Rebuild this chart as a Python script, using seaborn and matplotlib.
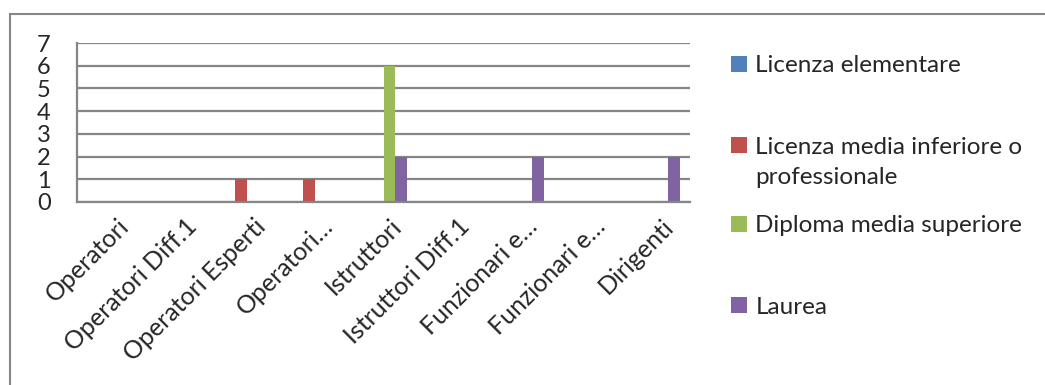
import matplotlib
matplotlib.use("Agg")
import matplotlib.pyplot as plt
import matplotlib.patches as mpatches
import matplotlib.transforms as mtransforms
import seaborn as sns
import pandas as pd

# categories and series
categories = ["Operatori", "Operatori Diff.1", "Operatori Esperti", "Operatori…",
              "Istruttori", "Istruttori Diff.1", "Funzionari e…", "Funzionari e…",
              "Dirigenti"]
series = ["Licenza elementare", "Licenza media inferiore o professionale",
          "Diploma media superiore", "Laurea"]
licenza_elementare = [0, 0, 0, 0, 0, 0, 0, 0, 0]
licenza_media = [0, 0, 1, 1, 0, 0, 0, 0, 0]
diploma = [0, 0, 0, 0, 6, 0, 0, 0, 0]
laurea = [0, 0, 0, 0, 2, 0, 2, 0, 2]
colors = ["#4F81BD", "#C0504D", "#9BBB59", "#8064A2"]

# unique x keys (two categories share the same truncated label)
keys = [f"c{i}" for i in range(len(categories))]
rows = []
for s, vals in zip(series, [licenza_elementare, licenza_media, diploma, laurea]):
    for k, v in zip(keys, vals):
        rows.append({"cat": k, "serie": s, "val": v})
df = pd.DataFrame(rows)

sns.set_style("white")
plt.rcParams["font.family"] = ["Lato", "DejaVu Sans"]
grid_col = "#868686"

fig = plt.figure(figsize=(10.45, 3.85), dpi=100)
W, H = 1045, 385
ax = fig.add_axes([77 / W, 1 - 202 / H, (690 - 77) / W, (202 - 43) / H])

sns.barplot(data=df, x="cat", y="val", hue="serie", order=keys, hue_order=series,
            palette=colors, width=0.7, saturation=1, linewidth=0, ax=ax, legend=True)

ax.set_ylim(0, 7)
ax.set_xlim(-0.5, len(keys) - 0.5)
ax.set_yticks(range(0, 8))
ax.yaxis.grid(True, color=grid_col, linewidth=1.6)
ax.set_axisbelow(True)
for s in ["top", "right"]:
    ax.spines[s].set_visible(False)
for s in ["left", "bottom"]:
    ax.spines[s].set_color(grid_col)
    ax.spines[s].set_linewidth(1.6)
ax.set_xlabel("")
ax.set_ylabel("")

ax.set_xticks([i - 0.5 for i in range(len(keys) + 1)], minor=False)
ax.set_xticklabels([])
ax.set_xticks(range(len(keys)), minor=True)
ax.set_xticklabels(categories, minor=True, rotation=45, ha="right",
                   rotation_mode="anchor", fontsize=18)
ax.tick_params(axis="x", which="major", length=7, width=1.6, color=grid_col,
               direction="out")
ax.tick_params(axis="x", which="minor", length=0, pad=9)
ax.tick_params(axis="y", length=8, width=1.6, color=grid_col, labelsize=17, pad=11)
shift = mtransforms.ScaledTranslation(6 / 100, 0, fig.dpi_scale_trans)
for t in ax.get_xticklabels(minor=True):
    t.set_transform(t.get_transform() + shift)

handles, labels = ax.get_legend_handles_labels()
ax.get_legend().remove()
leg_labels = ["Licenza elementare", "Licenza media inferiore o",
              "Diploma media superiore", "Laurea"]
ys = [66, 147, 226, 307]
legs = []
for h, lab, y in zip(handles, leg_labels, ys):
    lg = fig.legend([h], [lab], loc="center left",
                    bbox_to_anchor=(731 / W, 1 - y / H),
                    frameon=False, fontsize=17.5, handlelength=0.65, handleheight=0.65,
                    handletextpad=0.35, borderaxespad=0, borderpad=0)
    legs.append(lg)

# second line of the two-line legend entry
fig.canvas.draw()
bb = legs[1].get_texts()[0].get_window_extent()
fig.text(bb.x0 / W, 1 - 184 / H, "professionale", fontsize=17.5, va="baseline",
         ha="left")

# outer chart border
fig.patches.append(mpatches.Rectangle((10 / W, -0.1), 1.2, 1 - 14 / H + 0.1,
                                      transform=fig.transFigure, fill=False,
                                      edgecolor=grid_col, linewidth=1.5))

fig.savefig("out.png", dpi=100)
